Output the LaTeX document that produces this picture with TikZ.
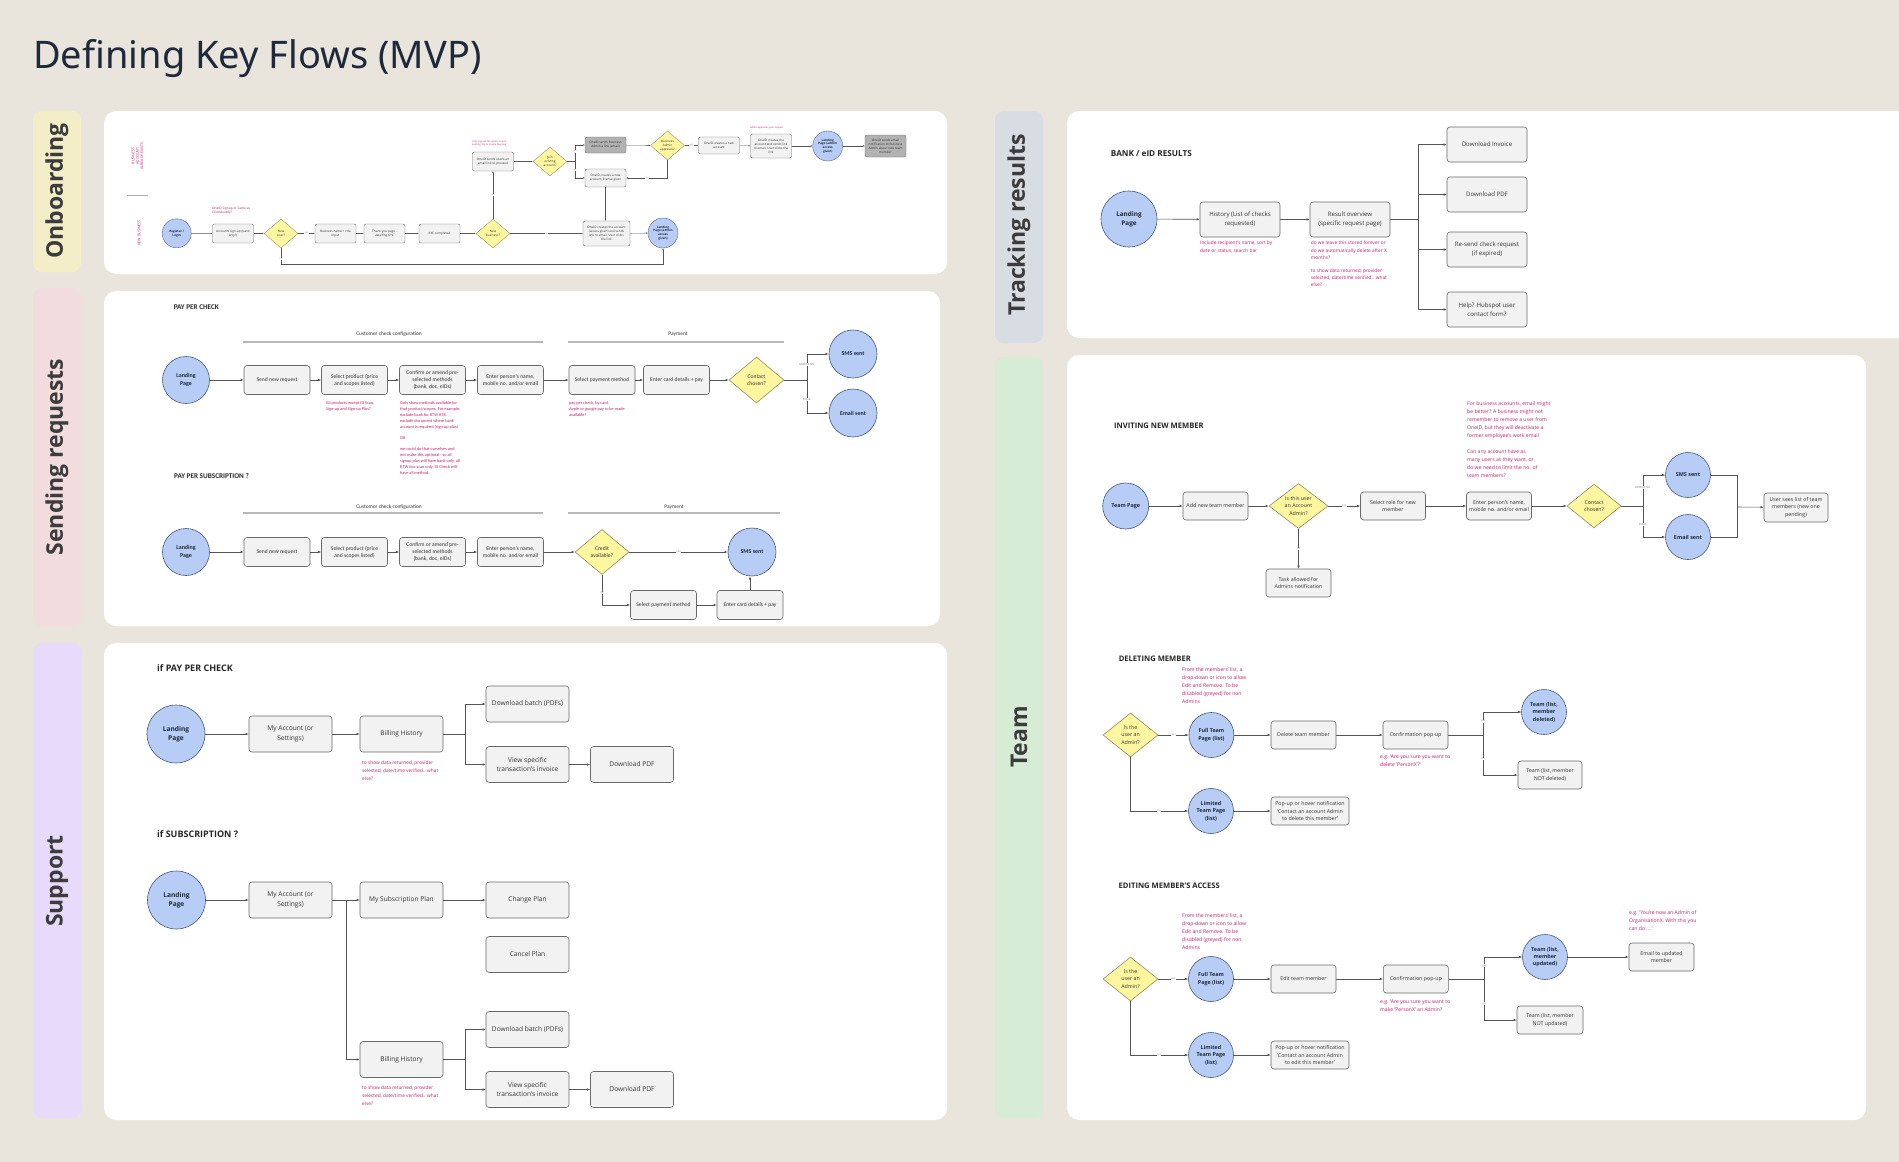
\documentclass[tikz,border=0pt]{standalone}
\usepackage{fontspec}
\setmainfont{Open Sans}
\newfontfamily\condf{Carlito}
\newfontfamily\titlef{Noto Sans}
\usepackage{tikz}
\usetikzlibrary{positioning,arrows.meta,shapes.geometric}
\definecolor{bg}{RGB}{233,229,220}
\definecolor{ink}{RGB}{51,51,51}
\definecolor{navy}{RGB}{30,42,60}
\definecolor{lineg}{RGB}{85,85,85}
\definecolor{boxf}{RGB}{242,242,242}
\definecolor{boxd}{RGB}{105,105,105}
\definecolor{darkf}{RGB}{178,178,178}
\definecolor{circf}{RGB}{184,205,245}
\definecolor{circd}{RGB}{70,88,125}
\definecolor{diaf}{RGB}{255,246,160}
\definecolor{diad}{RGB}{140,140,100}
\definecolor{magc}{RGB}{196,28,110}
\definecolor{onbc}{RGB}{244,238,200}
\definecolor{sndc}{RGB}{242,220,222}
\definecolor{supc}{RGB}{232,218,250}
\definecolor{trkc}{RGB}{216,221,228}
\definecolor{teamc}{RGB}{214,236,212}
\definecolor{labc}{RGB}{60,60,60}
\newcommand\fsz[2]{\fontsize{#1}{#2}\selectfont}

\begin{document}
\begin{tikzpicture}[x=1pt,y=-1pt,
  box/.style={draw=boxd,fill=boxf,rounded corners=3pt,align=center,inner sep=1pt,line width=0.6pt,text=ink},
  circ/.style={circle,draw=circd,fill=circf,align=center,inner sep=0pt,line width=0.6pt,text=navy},
  dia/.style={diamond,aspect=1.25,draw=diad,fill=diaf,align=center,inner sep=0pt,line width=0.6pt,text=ink},
  flow/.style={draw=lineg,line width=0.6pt,-{Latex[length=3.2pt,width=2.6pt]}},
  link/.style={draw=lineg,line width=0.6pt},
  lbl/.style={fill=white,inner sep=0.4pt,text=gray,font=\fsz{2.8}{3.2}},
  rem/.style={anchor=north west,align=left,inner sep=0pt,text=magc},
  head/.style={anchor=west,inner sep=0pt,text=black!85},
  side/.style={rotate=90,font=\fsz{23}{26}\bfseries,text=labc},
  panel/.style={fill=white,rounded corners=12pt},
  bar/.style={rounded corners=9pt},
  ob/.style={box,minimum width=41pt,minimum height=19pt,font=\fsz{3.1}{3.9},rounded corners=2pt,line width=0.35pt},
  obd/.style={dia,minimum width=34pt,minimum height=29pt,font=\fsz{3.1}{3.8},line width=0.35pt},
  obc/.style={circ,minimum size=29pt,font=\fsz{3.1}{3.8}\bfseries,line width=0.35pt},
  obf/.style={draw=lineg,line width=0.35pt,-{Latex[length=1.8pt,width=1.5pt]}},
  oblbl/.style={lbl,font=\fsz{2.2}{2.5}},
  sb/.style={box,minimum width=66pt,minimum height=29pt,font=\condf\fsz{5.6}{7.2}},
  scirc/.style={circ,minimum size=47pt,font=\condf\fsz{6}{7.5}\bfseries},
  sdia/.style={dia,font=\condf\fsz{5.6}{7.2}},
  snote/.style={rem,font=\condf\fsz{4.3}{6}},
  sect/.style={font=\condf\fsz{5.4}{6},text=ink},
  spb/.style={box,minimum width=83pt,minimum height=36pt,font=\fsz{6.6}{9.5}},
  supcirc/.style={circ,minimum size=58pt,font=\fsz{6.6}{9}\bfseries},
  tb/.style={box,minimum width=80pt,minimum height=35pt,font=\fsz{6.1}{9.2}},
  mb/.style={box,minimum width=65pt,minimum height=28pt,font=\fsz{5.3}{7.4}},
  tcirc/.style={circ,minimum size=45pt,font=\fsz{5.4}{7.4}\bfseries},
  tdia/.style={dia,minimum width=55pt,minimum height=44pt,font=\fsz{5.3}{7.4}},
  tnote/.style={rem,font=\fsz{5.1}{8}}]
\useasboundingbox (0,0) rectangle (1899,1162);
\fill[bg] (0,0) rectangle (1899,1162);
\node[anchor=base west,inner sep=0pt,font=\titlef\fsz{38}{44},text=navy] (title) at (33,68) {Defining Key Flows (MVP)};

% side bars and panels
\fill[onbc,bar] (33,111) rectangle (81,272);
\fill[sndc,bar] (33,288) rectangle (81,626);
\fill[supc,bar] (33,643) rectangle (81,1118);
\fill[trkc,bar] (995,111) rectangle (1043,343);
\fill[teamc,bar] (995,357) rectangle (1043,1118);
\node[side] (sOnb) at (57,191) {Onboarding};
\node[side] (sSnd) at (57,457) {Sending requests};
\node[side] (sSup) at (57,881) {Support};
\node[side] (sTrk) at (1019,225) {Tracking results};
\node[side] (sTeam) at (1019,737) {Team};
\fill[panel] (104,111) rectangle (947,274);
\fill[panel] (104,291) rectangle (940,626);
\fill[panel] (104,643) rectangle (947,1120);
\fill[panel] (1067,111) rectangle (1925,338);
\fill[panel] (1067,355) rectangle (1866,1120);

% onboarding
\node[rotate=90,text=magc,align=center,font=\fsz{3.6}{4.3}] (bae) at (137.5,156) {BUSINESS\\ACCOUNT\\ALREADY EXISTS};
\draw[gray!60,line width=0.4pt] (127,195) -- (148,195);
\node[rotate=90,text=magc,font=\fsz{3.6}{4.3}] (nbz) at (139,233) {NEW BUSINESS};
\node[obc] (reg) at (176.7,233.3) {Register /\\Login};
\node[ob] (acc) at (233,233.5) {Accounts sign-up (bank\\only?)};
\node[obd] (nu) at (281,233.5) {New\\user?};
\node[ob] (bn) at (335.5,233.5) {Business name + role\\input};
\node[ob] (ty) at (384.5,233.5) {Thank you page -\\awaiting KYC};
\node[ob] (kyc) at (439.5,233.5) {KYC completed};
\node[obd] (nb) at (493,233.5) {New\\business?};
\node[ob] (eml) at (493,161.5) {OneID sends user's an\\email link to proceed};
\node[obd] (je) at (550,161.5) {Join\\existing\\account?};
\node[ob,fill=darkf,minimum height=16pt] (sba) at (605.5,145) {OneID sends Business\\Admin a link (email)};
\node[ob,minimum height=18pt] (nal) at (605.5,178) {OneID creates a new\\account, license given};
\node[obd] (baa) at (667.5,145.5) {Business\\Admin\\approves?};
\node[ob,minimum height=17pt] (cna) at (719,145.5) {OneID creates a new\\account};
\node[ob,minimum height=24pt] (cal) at (771,146) {OneID creates the\\account and sends link\\to email. User clicks the\\link};
\node[obc,minimum size=30pt] (lpa) at (827.7,146) {Landing\\Page (admin\\access\\given)};
\node[ob,fill=darkf,minimum height=22pt] (ntf) at (885.5,146) {OneID sends email\\notification to Business\\Admin about new team\\member};
\node[ob,minimum width=47pt,minimum height=25pt] (cag) at (606.5,233.5) {OneID creates the account\\(access given) and sends\\link to email. User clicks\\the link};
\node[obc,minimum size=30pt] (lpb) at (663,233) {Landing\\Page (admin\\access\\given)};
\node[rem,font=\fsz{3.2}{4}] (on1) at (212,207) {OneID Signup or Same as\\Checkbuddy?};
\node[rem,font=\fsz{2.4}{3}] (on2) at (472,140) {User is given the option to join\\existing Org or create new one};
\node[rem,font=\fsz{2.4}{3}] (on3) at (750,126) {Admin approves your request};
\coordinate (jb) at (575,161.5);
\coordinate (nub) at (281,264);
\draw[obf] (reg) -- (acc);\draw[obf] (acc) -- (nu);
\draw[obf] (nu) -- node[oblbl] (ol1) {yes} (bn);
\draw[obf] (bn) -- (ty);\draw[obf] (ty) -- (kyc);\draw[obf] (kyc) -- (nb);
\draw[obf] (nb) -- node[oblbl] (ol2) {yes} (eml);
\draw[obf] (nb) -- node[oblbl] (ol3) {no} (cag);
\draw[obf] (eml) -- (je);
\draw[obf] (je) -- (jb) |- node[oblbl,pos=0.3] (ol4) {yes} (sba);
\draw[obf] (jb) |- node[oblbl,pos=0.25] (ol5) {no} (nal);
\draw[obf] (sba) -- (baa);
\draw[obf] (baa) -- node[oblbl] (ol6) {yes} (cna);
\draw[obf] (baa) |- node[oblbl,pos=0.75] (ol7) {no} (nal);
\draw[obf] (nal.south) -- (nal.south |- cag.north);
\draw[obf] (cna) -- (cal);\draw[obf] (cal) -- (lpa);\draw[obf] (lpa) -- (ntf);
\draw[obf] (cag) -- (lpb);
\draw[obf] (nu) -- node[oblbl,pos=0.7] (ol8) {no} (nub) -| (lpb);

% sending requests: pay per check
\node[head,font=\condf\fsz{7.2}{8}\bfseries] (ppc) at (173.6,307) {PAY PER CHECK};
\node[sect] (ccc1) at (389,334) {Customer check configuration};
\node[sect] (pay1) at (678,334) {Payment};
\draw[gray!55,line width=1.2pt] (243,342) -- (543,342);
\draw[gray!55,line width=1.2pt] (568,342) -- (784,342);
\node[scirc] (lp3) at (186,380) {Landing\\Page};
\node[sb] (snr) at (277,380) {Send new request};
\node[sb] (sp) at (354.5,380) {Select product (price\\and scopes listed)};
\node[sb] (cm) at (432.5,380) {Confirm or amend pre-\\selected methods\\(bank, doc, eIDs)};
\node[sb] (ep) at (510.5,380) {Enter person's name,\\mobile no. and/or email};
\node[sb] (spm) at (602,380) {Select payment method};
\node[sb] (ecd) at (676.5,380) {Enter card details + pay};
\node[sdia,minimum width=55pt,minimum height=46pt] (cc) at (756.5,380) {Contact\\chosen?};
\node[scirc,minimum size=48pt] (sms1) at (853,354) {SMS sent};
\node[scirc,minimum size=48pt] (eml1) at (853,413) {Email sent};
\coordinate (cb) at (807,380);
\node[snote] (pn1) at (326,401) {All products except ID Scan,\\Sign-up and Sign-up Plus?};
\node[snote] (pn2) at (400,401) {Only show methods available for\\that product/scopes. For example,\\exclude bank for RTW RTR,\\exclude document where bank\\account is required (sign-up plus)\\[5pt]OR\\[5pt]we could do that ourselves and\\not make this optional - so all\\signup plus will have bank only, all\\RTW doc scan only, ID Check will\\have all method..};
\node[snote] (pn3) at (569,401) {pay per check, by card.\\Apple or google pay to be made\\available?};
\draw[flow] (lp3) -- (snr);\draw[flow] (snr) -- (sp);\draw[flow] (sp) -- (cm);
\draw[flow] (cm) -- (ep);\draw[flow] (ep) -- (spm);\draw[flow] (spm) -- (ecd);
\draw[flow] (ecd) -- (cc);\draw[link] (cc) -- (cb);
\draw[flow] (cb) |- node[lbl,pos=0.3] (sl1) {MOBILE NO.} (sms1);
\draw[flow] (cb) |- node[lbl,pos=0.3] (sl2) {EMAIL} (eml1);

% sending requests: pay per subscription
\node[head,font=\condf\fsz{7.2}{8}\bfseries] (pps) at (174,476) {PAY PER SUBSCRIPTION ?};
\node[sect] (ccc2) at (389,507) {Customer check configuration};
\node[sect] (pay2) at (674,507) {Payment};
\draw[gray!55,line width=1.2pt] (243,513) -- (543,513);
\draw[gray!55,line width=1.2pt] (568,513) -- (780,513);
\node[scirc] (lp4) at (186,552) {Landing\\Page};
\node[sb] (snr2) at (277,552) {Send new request};
\node[sb] (sp2) at (354.5,552) {Select product (price\\and scopes listed)};
\node[sb] (cm2) at (432.5,552) {Confirm or amend pre-\\selected methods\\(bank, doc, eIDs)};
\node[sb] (ep2) at (510.5,552) {Enter person's name,\\mobile no. and/or email};
\node[sdia,minimum width=54pt,minimum height=45pt] (ca) at (602,552) {Credit\\available?};
\node[scirc,minimum size=48pt] (sms2) at (752,552) {SMS sent};
\node[sb] (spm2) at (663.5,605) {Select payment method};
\node[sb] (ecd2) at (750,605) {Enter card details + pay};
\draw[flow] (lp4) -- (snr2);\draw[flow] (snr2) -- (sp2);\draw[flow] (sp2) -- (cm2);
\draw[flow] (cm2) -- (ep2);\draw[flow] (ep2) -- (ca);
\draw[flow] (ca) -- node[lbl] (sl3) {yes} (sms2);
\draw[flow] (ca) |- node[lbl,pos=0.3] (sl4) {no} (spm2);
\draw[flow] (spm2) -- (ecd2);
\draw[flow] (ecd2.north) -- (ecd2.north |- sms2.south);

% support
\node[head,font=\fsz{9}{10}\bfseries] (ippc) at (157,668) {if PAY PER CHECK};
\node[supcirc] (lp5) at (176,734) {Landing\\Page};
\node[spb] (ma1) at (290.5,734) {My Account (or\\Settings)};
\node[spb] (bh1) at (401.5,734) {Billing History};
\node[spb] (db1) at (527.5,704) {Download batch (PDFs)};
\node[spb] (vi1) at (527.5,764.5) {View specific\\transaction's invoice};
\node[spb] (dp1) at (632,764.5) {Download PDF};
\coordinate (bb1) at (465,734);
\node[rem,font=\fsz{4.8}{7.6}] (sn1) at (362,761) {to show data returned, provider\\selected, date/time verified.. what\\else?};
\draw[flow] (lp5) -- (ma1);\draw[flow] (ma1) -- (bh1);\draw[link] (bh1) -- (bb1);
\draw[flow] (bb1) |- (db1);\draw[flow] (bb1) |- (vi1);\draw[flow] (vi1) -- (dp1);

\node[head,font=\fsz{9}{10}\bfseries] (isub) at (157,834) {if SUBSCRIPTION ?};
\node[supcirc] (lp6) at (176.5,900) {Landing\\Page};
\node[spb] (ma2) at (290.5,900) {My Account (or\\Settings)};
\node[spb] (msp) at (401.5,900) {My Subscription Plan};
\node[spb] (chp) at (527.5,900) {Change Plan};
\node[spb] (cnp) at (527.5,954.5) {Cancel Plan};
\node[spb] (bh2) at (401.5,1059.5) {Billing History};
\node[spb] (db2) at (527.5,1029.5) {Download batch (PDFs)};
\node[spb] (vi2) at (527.5,1089.5) {View specific\\transaction's invoice};
\node[spb] (dp2) at (632,1089.5) {Download PDF};
\coordinate (mb) at (346,900);
\coordinate (bb2) at (465,1059.5);
\node[rem,font=\fsz{4.8}{7.6}] (sn2) at (362,1086) {to show data returned, provider\\selected, date/time verified.. what\\else?};
\draw[flow] (lp6) -- (ma2);\draw[flow] (ma2) -- (msp);\draw[flow] (mb) |- (bh2);
\draw[flow] (msp) -- (chp);\draw[link] (bh2) -- (bb2);
\draw[flow] (bb2) |- (db2);\draw[flow] (bb2) |- (vi2);\draw[flow] (vi2) -- (dp2);

% tracking results
\node[head,font=\fsz{8.2}{9}\bfseries] (bank) at (1110.7,154) {BANK / eID RESULTS};
\node[circ,minimum size=56pt,font=\fsz{6.4}{9}\bfseries] (lp7) at (1129,219) {Landing\\Page};
\node[tb] (his) at (1240,219.5) {History (List of checks\\requested)};
\node[tb] (res) at (1350,219.5) {Result overview\\(specific request page)};
\node[tb] (dinv) at (1487,144.5) {Download Invoice};
\node[tb] (dpdf) at (1487,194.5) {Download PDF};
\node[tb] (rsd) at (1487,249.5) {Re-send check request\\(if expired)};
\node[tb] (hlp) at (1487,309.5) {Help? Hubspot user\\contact form?};
\coordinate (rb) at (1418,219.5);
\node[rem,font=\fsz{4.8}{7.2}] (tn1) at (1200,241) {Include recipient's name, sort by\\date or status, search bar};
\node[rem,font=\fsz{4.8}{7.2}] (tn2) at (1310.7,241) {do we leave this stored forever or\\do we automatically delete after X\\months?\\[6pt]to show data returned, provider\\selected, date/time verified.. what\\else?};
\draw[flow] (lp7) -- (his);\draw[flow] (his) -- (res);\draw[link] (res) -- (rb);
\draw[flow] (rb) |- (dinv);\draw[flow] (rb) |- (dpdf);\draw[flow] (rb) |- (rsd);\draw[flow] (rb) |- (hlp);

% team: inviting
\node[head,font=\fsz{7.6}{8.5}\bfseries] (inv) at (1114,426) {INVITING NEW MEMBER};
\node[tcirc,minimum size=46pt] (tp) at (1125.7,506) {Team Page};
\node[mb] (anm) at (1215.5,506) {Add new team member};
\node[tdia,minimum width=59pt,minimum height=45pt] (iaa) at (1298.5,506) {Is this user\\an Account\\Admin?};
\node[mb] (srl) at (1393,506) {Select role for new\\member};
\node[mb] (epn) at (1499,506) {Enter person's name,\\mobile no. and/or email};
\node[mb] (tan) at (1298.5,583) {Task allowed for\\Admins notification};
\node[tdia,minimum width=54pt] (cc2) at (1594,506) {Contact\\chosen?};
\node[tcirc] (sms3) at (1688,475) {SMS sent};
\node[tcirc] (eml3) at (1688,537) {Email sent};
\node[mb,minimum width=64pt,minimum height=29pt] (usl) at (1796,507.5) {User sees list of team\\members (new one\\pending)};
\coordinate (cb2) at (1643,506);
\coordinate (mg) at (1737,507);
\node[tnote] (tmn1) at (1467,401) {For business accounts, email might\\be better? A business might not\\remember to remove a user from\\OneID, but they will deactivate a\\former employee's work email\\[8pt]Can any account have as\\many users as they want, or\\do we need to limit the no. of\\team members?};
\draw[flow] (tp) -- (anm);\draw[flow] (anm) -- (iaa);
\draw[flow] (iaa) -- node[lbl] (tl1) {yes} (srl);
\draw[flow] (iaa) -- node[lbl] (tl2) {no} (tan);
\draw[flow] (srl) -- (epn);\draw[flow] (epn) -- (cc2);\draw[link] (cc2) -- (cb2);
\draw[flow] (cb2) |- node[lbl,pos=0.3] (tl3) {MOBILE NO.} (sms3);
\draw[flow] (cb2) |- node[lbl,pos=0.3] (tl4) {EMAIL} (eml3);
\draw[link] (sms3) -| (mg);\draw[link] (eml3) -| (mg);\draw[flow] (mg) -- (usl);

% team: deleting
\node[head,font=\fsz{7.6}{8.5}\bfseries] (del) at (1118.6,659) {DELETING MEMBER};
\node[tnote] (dn1) at (1182,667) {From the members' list, a\\drop-down or icon to allow\\Edit and Remove. To be\\disabled (greyed) for non\\Admins};
\node[tdia] (ia1) at (1130.5,735) {Is the\\user an\\Admin?};
\node[tcirc] (ftp1) at (1211.4,735) {Full Team\\Page (list)};
\node[mb] (dtm) at (1303.5,735) {Delete team member};
\node[mb] (cp1) at (1415.5,735) {Confirmation pop-up};
\node[tcirc] (tmd) at (1544,712) {Team (list,\\member\\deleted)};
\node[mb,minimum width=64pt] (tnd) at (1550,775) {Team (list, member\\NOT deleted)};
\node[tnote] (dn2) at (1380,755) {e.g. 'Are you sure you want to\\delete 'PersonX'?'};
\node[tcirc] (ltp1) at (1211,811) {Limited\\Team Page\\(list)};
\node[mb,minimum width=78pt] (pop1) at (1310,811) {Pop-up or hover notification\\'Contact an account Admin\\to delete this member'};
\coordinate (cb3) at (1483,735);
\draw[flow] (ia1) -- node[lbl] (dl1) {yes} (ftp1);
\draw[flow] (ftp1) -- (dtm);\draw[flow] (dtm) -- (cp1);\draw[link] (cp1) -- (cb3);
\draw[flow] (cb3) |- node[lbl,pos=0.3] (dl2) {yes} (tmd);
\draw[flow] (cb3) |- node[lbl,pos=0.3] (dl3) {no} (tnd);
\draw[flow] (ia1) |- node[lbl,pos=0.75] (dl4) {no} (ltp1);
\draw[flow] (ltp1) -- (pop1);

% team: editing
\node[head,font=\fsz{7.6}{8.5}\bfseries] (edt) at (1118.5,886) {EDITING MEMBER'S ACCESS};
\node[tnote] (en1) at (1182,913) {From the members' list, a\\drop-down or icon to allow\\Edit and Remove. To be\\disabled (greyed) for non\\Admins};
\node[tdia] (ia2) at (1130.5,979) {Is the\\user an\\Admin?};
\node[tcirc] (ftp2) at (1211,979) {Full Team\\Page (list)};
\node[mb] (etm) at (1303.5,979) {Edit team member};
\node[mb] (cp2) at (1415.8,979) {Confirmation pop-up};
\node[tcirc] (tmu) at (1545,957) {Team (list,\\member\\updated)};
\node[mb] (eum) at (1661.5,957) {Email to updated\\member};
\node[tnote] (en3) at (1629,910) {e.g. 'You're now an Admin of\\OrganisationX. With this you\\can do ....'};
\node[mb,minimum width=66pt] (tnu) at (1550,1020) {Team (list, member\\NOT updated)};
\node[tnote] (en2) at (1380,1000) {e.g. 'Are you sure you want to\\make 'PersonX' an Admin?};
\node[tcirc] (ltp2) at (1211,1055) {Limited\\Team Page\\(list)};
\node[mb,minimum width=78pt] (pop2) at (1310,1055) {Pop-up or hover notification\\'Contact an account Admin\\to edit this member'};
\coordinate (cb4) at (1484,979);
\draw[flow] (ia2) -- node[lbl] (el1) {yes} (ftp2);
\draw[flow] (ftp2) -- (etm);\draw[flow] (etm) -- (cp2);\draw[link] (cp2) -- (cb4);
\draw[flow] (cb4) |- node[lbl,pos=0.3] (el2) {yes} (tmu);
\draw[flow] (cb4) |- node[lbl,pos=0.3] (el3) {no} (tnu);
\draw[flow] (tmu) -- (eum);
\draw[flow] (ia2) |- node[lbl,pos=0.75] (el4) {no} (ltp2);
\draw[flow] (ltp2) -- (pop2);
\end{tikzpicture}
\end{document}
